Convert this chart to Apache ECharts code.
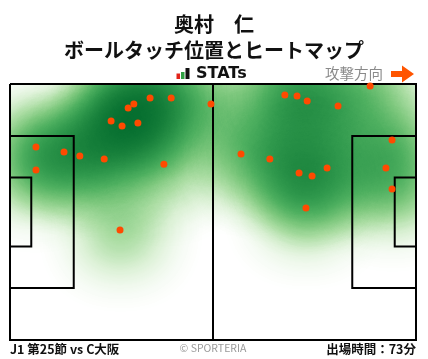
<!DOCTYPE html>
<html><head><meta charset="utf-8">
<script src="https://cdn.jsdelivr.net/npm/echarts@6/dist/echarts.min.js"></script>
<style>html,body{margin:0;padding:0;background:#fff}#c{width:428px;height:359px}</style>
</head><body><div id="c"></div>
<script>
const playerName = '奥村　仁';
const chartTitle = 'ボールタッチ位置とヒートマップ';
const matchLabel = 'J1 第25節 vs C大阪';
const minutesLabel = '出場時間：73分';
const directionLabel = '攻撃方向';
const brandLabel = 'STATs';
const creditLabel = '© SPORTERIA';

// Ball touches: x = % of pitch length (attack direction →), y = % of pitch width from the top touchline
const touchX = [34.5, 39.7, 30.5, 29.1, 49.5, 24.9, 27.6, 31.5, 6.4, 13.3, 17.2, 23.2, 37.9, 6.4, 27.1,
                88.7, 67.7, 70.7, 73.2, 80.8, 94.1, 56.9, 64.0, 92.6, 78.1, 71.2, 74.4, 94.1, 72.9];
const touchY = [5.5, 5.5, 7.8, 9.4, 7.8, 14.5, 16.4, 15.2, 24.6, 26.6, 28.1, 29.3, 31.3, 33.6, 57.0,
                0.8, 4.3, 4.7, 6.6, 8.6, 21.9, 27.3, 29.3, 32.8, 32.8, 34.8, 35.9, 41.0, 48.4];
const touchWeight = 0.88;

// Pitch markings in the same % coordinates
const pitchLines = [
  [[0,0],[100,0],[100,100],[0,100],[0,0]],
  [[50,0],[50,100]],
  [[0,20.35],[15.7,20.35],[15.7,79.65],[0,79.65]],
  [[0,36.5],[5.24,36.5],[5.24,63.5],[0,63.5]],
  [[100,20.35],[84.3,20.35],[84.3,79.65],[100,79.65]],
  [[100,36.5],[94.76,36.5],[94.76,63.5],[100,63.5]]
];

const GREENS = ['#ffffff','#dcf1d6','#abdda3','#7cc77c','#4fb060','#2f984c','#167f3a','#00692c','#005824'];
const FONT = '"Noto Sans CJK JP", "Noto Sans", sans-serif';

echarts.registerMap('pitch', {
  type: 'FeatureCollection',
  features: [{type: 'Feature', properties: {name: 'pitch'},
    geometry: {type: 'Polygon', coordinates: [[[0,0],[100,0],[100,100],[0,100],[0,0]]]}}]
});

const toGeo = (x, y) => [x, 100 - y];

const chart = echarts.init(document.getElementById('c'), null, {renderer: 'canvas'});
chart.setOption({
  animation: false,
  backgroundColor: '#fff',
  title: {
    text: playerName + '\n' + chartTitle,
    left: 'center', top: 6,
    textStyle: {fontFamily: FONT, fontSize: 20, fontWeight: 'bold', color: '#111', lineHeight: 26}
  },
  geo: {
    map: 'pitch', roam: false, silent: true,
    left: 10, top: 84, width: 406, height: 256,
    itemStyle: {areaColor: '#fff', borderWidth: 0},
    label: {show: false},
    emphasis: {disabled: true},
    select: {disabled: true}
  },
  visualMap: {
    show: false, type: 'continuous', min: 0, max: 1, seriesIndex: 0,
    inRange: {color: GREENS}
  },
  series: [
    {
      type: 'heatmap', coordinateSystem: 'geo', pointSize: 26, blurSize: 62, silent: true,
      minOpacity: 1, maxOpacity: 1,
      data: touchX.map((x, i) => toGeo(x, touchY[i]).concat([touchWeight]))
    },
    {
      type: 'lines', coordinateSystem: 'geo', polyline: true, silent: true, z: 3,
      lineStyle: {color: '#000', width: 2, opacity: 1},
      data: pitchLines.map(l => ({coords: l.map(p => toGeo(p[0], p[1]))}))
    },
    {
      type: 'scatter', coordinateSystem: 'geo', symbolSize: 7, silent: true, z: 4,
      itemStyle: {color: '#ff4a00', opacity: 1},
      data: touchX.map((x, i) => toGeo(x, touchY[i]))
    }
  ],
  graphic: [
    {type: 'rect', shape: {x: 176.5, y: 73.5, width: 3.5, height: 5.5}, style: {fill: '#e2231a'}},
    {type: 'rect', shape: {x: 181, y: 72, width: 3.5, height: 7}, style: {fill: '#2ea043'}},
    {type: 'rect', shape: {x: 185.5, y: 68, width: 4, height: 11}, style: {fill: '#111'}},
    {type: 'text', x: 196, y: 74, style: {text: brandLabel, font: 'bold 16px "DejaVu Sans"', fill: '#111', verticalAlign: 'middle'}},
    {type: 'text', x: 325, y: 73, style: {text: directionLabel, font: '14.5px ' + FONT, fill: '#8a8a8a', verticalAlign: 'middle'}},
    {type: 'polygon', shape: {points: [[391,71],[402,71],[402,65.5],[414,74],[402,82.5],[402,77],[391,77]]}, style: {fill: '#ff5500'}},
    {type: 'text', x: 10, y: 349, style: {text: matchLabel, font: 'bold 12.5px ' + FONT, fill: '#111', verticalAlign: 'middle'}},
    {type: 'text', x: 213, y: 348, style: {text: creditLabel, font: '10.5px ' + FONT, fill: '#9a9a9a', align: 'center', verticalAlign: 'middle'}},
    {type: 'text', x: 416, y: 349, style: {text: minutesLabel, font: 'bold 12.5px ' + FONT, fill: '#111', align: 'right', verticalAlign: 'middle'}}
  ]
});
</script>
</body></html>
